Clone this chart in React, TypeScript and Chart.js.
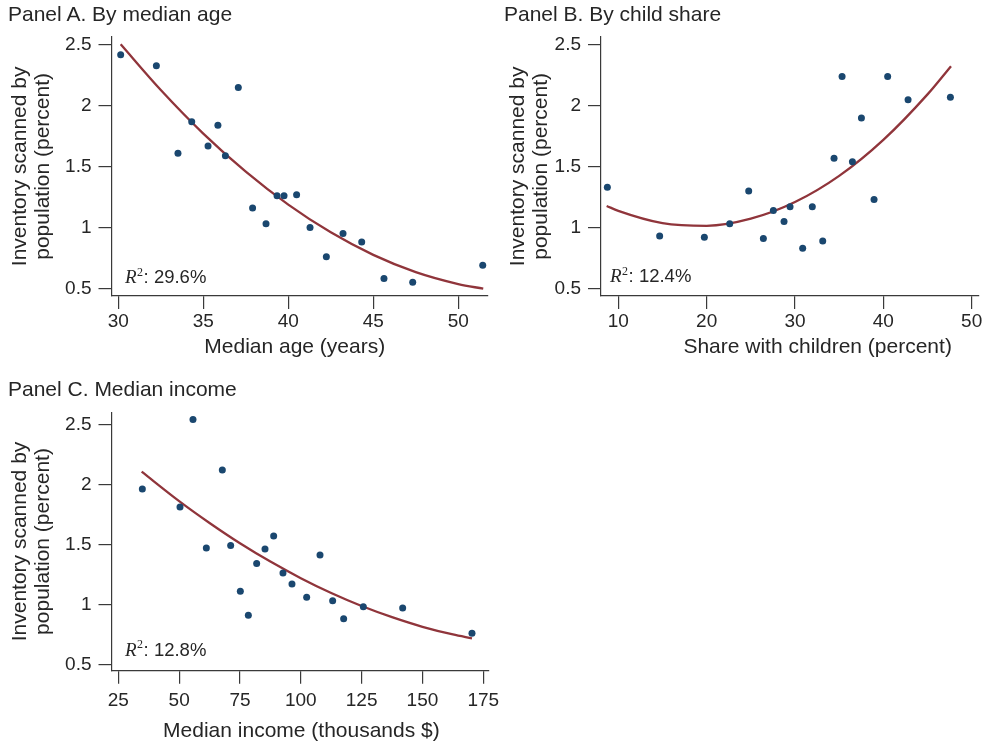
import React, { useEffect, useRef } from 'react';
import { Chart, registerables } from 'chart.js';

Chart.register(...registerables);

// ---------- Data ----------
// Panel A: by median age
const ageX = [30.14, 32.24, 37.06, 34.32, 35.86, 33.51, 35.28, 36.3, 39.34, 39.75, 40.49, 37.9, 38.69, 41.28, 43.22, 44.32, 42.24, 45.63, 47.32, 51.44];
const ageY = [2.42, 2.33, 2.15, 1.87, 1.84, 1.61, 1.67, 1.59, 1.26, 1.26, 1.27, 1.16, 1.03, 1.0, 0.95, 0.88, 0.76, 0.58, 0.55, 0.69];
const ageFitX = [30.14, 32.5, 35, 37.5, 40, 42.5, 45, 47.5, 50, 51.47];
const ageFitY = [2.506, 2.13, 1.772, 1.459, 1.188, 0.96, 0.775, 0.633, 0.535, 0.497];
const ageTicks = [30, 35, 40, 45, 50];

// Panel B: by child share
const childX = [8.76, 14.68, 19.74, 22.61, 24.76, 26.42, 27.55, 28.76, 29.44, 30.87, 31.96, 33.14, 34.42, 35.33, 36.5, 37.52, 38.95, 40.49, 42.8, 47.59];
const childY = [1.33, 0.93, 0.92, 1.03, 1.3, 0.91, 1.14, 1.05, 1.17, 0.83, 1.17, 0.89, 1.57, 2.24, 1.54, 1.9, 1.23, 2.24, 2.05, 2.07];
const childFitX = [8.68, 10, 15, 20, 25, 30, 35, 40, 45, 47.66];
const childFitY = [1.177, 1.137, 1.036, 1.014, 1.072, 1.209, 1.424, 1.72, 2.094, 2.326];
const childTicks = [10, 20, 30, 40, 50];

// Panel C: median income
const incomeX = [34.88, 50.36, 55.7, 61.18, 67.75, 71.18, 75.15, 78.44, 81.86, 85.29, 88.85, 92.68, 96.38, 102.41, 107.89, 113.09, 117.61, 125.69, 141.86, 170.35];
const incomeY = [1.96, 1.81, 2.54, 1.47, 2.12, 1.49, 1.11, 0.91, 1.34, 1.46, 1.57, 1.26, 1.17, 1.06, 1.41, 1.03, 0.88, 0.98, 0.97, 0.76];
const incomeFitX = [34.6, 50, 62.5, 75, 87.5, 100, 112.5, 125, 137.5, 150, 162.5, 170.35];
const incomeFitY = [2.105, 1.86, 1.678, 1.509, 1.356, 1.218, 1.094, 0.986, 0.893, 0.813, 0.749, 0.717];
const incomeTicks = [25, 50, 75, 100, 125, 150, 175];

// Shared y axis
const yTicks = [0.5, 1, 1.5, 2, 2.5];
const yTickLabels = ['0.5', '1', '1.5', '2', '2.5'];
const yTitleLines = ['Inventory scanned by', 'population (percent)'];

// ---------- Styles ----------
const SANS = '"Liberation Sans", Arial, Helvetica, sans-serif';
const SERIF = '"Liberation Serif", "Times New Roman", serif';
const TEXT = '#262626';
const AXIS = '#3a3a3a';
const NAVY = '#1a476f';
const MAROON = '#90353b';

type Spec = {
  title: string;
  titleLeft: number;
  titleTop: number;
  canvas: { left: number; top: number; w: number; h: number };
  area: { l: number; t: number; r: number; b: number };
  xMin: number; xMax: number; yMin: number; yMax: number;
  x: number[]; y: number[]; fitX: number[]; fitY: number[];
  xTicks: number[];
  xTickPad: number;
  xTitle: string; xTitleDx: number; xTitleBaseline: number;
  yTitlePad: number;
  r2: string; r2Left: number; r2Baseline: number;
};

const specs: Spec[] = [
  {
    title: 'Panel A. By median age', titleLeft: 8, titleTop: 2.4,
    canvas: { left: 0, top: 14, w: 495, h: 356 },
    area: { l: 111.5, t: 36.7, r: 488, b: 296 },
    xMin: 29.6, xMax: 51.75, yMin: 0.437, yMax: 2.568,
    x: ageX, y: ageY, fitX: ageFitX, fitY: ageFitY, xTicks: ageTicks, xTickPad: 1.8,
    xTitle: 'Median age (years)', xTitleDx: -5, xTitleBaseline: 353.3,
    yTitlePad: 8.3,
    r2: '29.6%', r2Left: 125, r2Baseline: 283.3,
  },
  {
    title: 'Panel B. By child share', titleLeft: 504, titleTop: 2.4,
    canvas: { left: 495, top: 14, w: 490, h: 356 },
    area: { l: 601, t: 36.7, r: 978.3, b: 296 },
    xMin: 8.04, xMax: 50.75, yMin: 0.437, yMax: 2.568,
    x: childX, y: childY, fitX: childFitX, fitY: childFitY, xTicks: childTicks, xTickPad: 1.8,
    xTitle: 'Share with children (percent)', xTitleDx: 28, xTitleBaseline: 353.3,
    yTitlePad: 11.6,
    r2: '12.4%', r2Left: 610, r2Baseline: 282,
  },
  {
    title: 'Panel C. Median income', titleLeft: 8, titleTop: 377.4,
    canvas: { left: 0, top: 390, w: 520, h: 355 },
    area: { l: 111.5, t: 412.3, r: 488.3, b: 670.7 },
    xMin: 22.21, xMax: 177.05, yMin: 0.447, yMax: 2.6,
    x: incomeX, y: incomeY, fitX: incomeFitX, fitY: incomeFitY, xTicks: incomeTicks, xTickPad: 5.6,
    xTitle: 'Median income (thousands $)', xTitleDx: 1.5, xTitleBaseline: 736.5,
    yTitlePad: 8.3,
    r2: '12.8%', r2Left: 125, r2Baseline: 655.7,
  },
];

function Panel({ spec }: { spec: Spec }) {
  const ref = useRef<HTMLCanvasElement>(null);

  useEffect(() => {
    const s = spec;
    const cv = s.canvas;
    const a = s.area;
    const canvas = ref.current;
    if (!canvas) return;

    const annotations = {
      id: 'panelText',
      afterDraw(chart: any) {
        const ctx = chart.ctx as CanvasRenderingContext2D;
        const ca = chart.chartArea;
        ctx.save();
        ctx.fillStyle = TEXT;
        ctx.textBaseline = 'alphabetic';
        // x axis title
        ctx.font = `21px ${SANS}`;
        ctx.textAlign = 'center';
        ctx.fillText(s.xTitle, (ca.left + ca.right) / 2 + s.xTitleDx, s.xTitleBaseline - cv.top);
        // R^2 note
        ctx.textAlign = 'left';
        let x = s.r2Left - cv.left;
        const yb = s.r2Baseline - cv.top;
        ctx.font = `italic 19px ${SERIF}`;
        ctx.fillText('R', x, yb);
        x += ctx.measureText('R').width + 0.5;
        ctx.font = `12px ${SERIF}`;
        ctx.fillText('2', x, yb - 7.5);
        x += ctx.measureText('2').width + 0.5;
        ctx.font = `18.5px ${SANS}`;
        ctx.fillText(': ' + s.r2, x, yb);
        ctx.restore();
      },
    };

    const chart = new Chart(canvas, {
      type: 'scatter',
      data: {
        datasets: [
          {
            data: s.x.map((v, i) => ({ x: v, y: s.y[i] })),
            backgroundColor: NAVY,
            borderColor: NAVY,
            borderWidth: 0,
            pointRadius: 3.5,
            pointHoverRadius: 3.5,
          },
          {
            data: s.fitX.map((v, i) => ({ x: v, y: s.fitY[i] })),
            showLine: true,
            borderColor: MAROON,
            borderWidth: 2.3,
            pointRadius: 0,
            pointHoverRadius: 0,
            cubicInterpolationMode: 'monotone',
            fill: false,
          } as any,
        ],
      },
      options: {
        responsive: false,
        animation: false,
        devicePixelRatio: 1,
        events: [],
        layout: {
          padding: {
            left: 0,
            top: a.t - cv.top,
            right: cv.left + cv.w - a.r,
            bottom: 0,
          },
        },
        plugins: {
          legend: { display: false },
          tooltip: { enabled: false },
          title: { display: false },
        },
        scales: {
          x: {
            type: 'linear',
            position: 'bottom',
            min: s.xMin,
            max: s.xMax,
            afterBuildTicks: (sc: any) => {
              sc.ticks = s.xTicks.map((v) => ({ value: v }));
            },
            afterFit: (sc: any) => {
              sc.height = cv.top + cv.h - a.b;
            },
            ticks: {
              autoSkip: false,
              maxRotation: 0,
              minRotation: 0,
              padding: s.xTickPad,
              color: TEXT,
              font: { family: SANS, size: 19 },
              callback: (v: any) => String(v),
            },
            grid: {
              display: true,
              drawOnChartArea: false,
              drawTicks: true,
              tickLength: 13,
              color: AXIS,
              lineWidth: 1.2,
            },
            border: { display: true, color: AXIS, width: 1.2 },
            title: { display: false },
          },
          y: {
            type: 'linear',
            position: 'left',
            min: s.yMin,
            max: s.yMax,
            afterBuildTicks: (sc: any) => {
              sc.ticks = yTicks.map((v) => ({ value: v }));
            },
            afterFit: (sc: any) => {
              sc.width = a.l - cv.left;
            },
            ticks: {
              autoSkip: false,
              padding: 7,
              color: TEXT,
              font: { family: SANS, size: 19 },
              callback: (v: any) => {
                const i = yTicks.indexOf(Number(v));
                return i >= 0 ? yTickLabels[i] : String(v);
              },
            },
            grid: {
              display: true,
              drawOnChartArea: false,
              drawTicks: true,
              tickLength: 13,
              color: AXIS,
              lineWidth: 1.2,
            },
            border: { display: true, color: AXIS, width: 1.2 },
            title: {
              display: true,
              text: yTitleLines,
              color: TEXT,
              font: { family: SANS, size: 21, lineHeight: 1.1 },
              padding: { top: s.yTitlePad, bottom: 0 },
            },
          },
        },
      },
      plugins: [annotations],
    } as any);

    return () => chart.destroy();
  }, [spec]);

  const cv = spec.canvas;
  return (
    <canvas
      ref={ref}
      width={cv.w}
      height={cv.h}
      style={{ position: 'absolute', left: cv.left, top: cv.top, width: cv.w, height: cv.h }}
    />
  );
}

export default function App() {
  return (
    <div
      style={{
        position: 'fixed',
        left: 0,
        top: 0,
        width: 985,
        height: 745,
        background: '#ffffff',
        overflow: 'hidden',
      }}
    >
      {specs.map((s, i) => (
        <Panel key={i} spec={s} />
      ))}
      {specs.map((s, i) => (
        <div
          key={'t' + i}
          style={{
            position: 'absolute',
            left: s.titleLeft,
            top: s.titleTop,
            font: `21px ${SANS}`,
            lineHeight: '24px',
            color: TEXT,
            whiteSpace: 'nowrap',
          }}
        >
          {s.title}
        </div>
      ))}
    </div>
  );
}
